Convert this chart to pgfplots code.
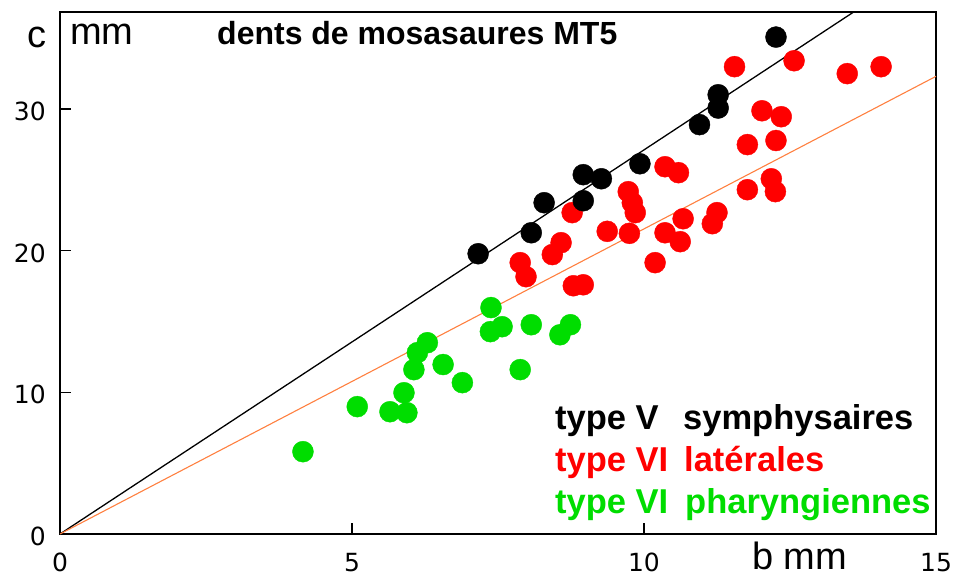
\documentclass[border=0pt]{standalone}
\usepackage{pgfplots}
\pgfplotsset{compat=1.18}
\usepackage{fontspec}
\setmainfont{Liberation Sans}
\newfontfamily\dejavu{DejaVu Sans}
\definecolor{ptred}{RGB}{255,0,0}
\definecolor{ptgreen}{RGB}{0,221,0}
\definecolor{lnorange}{RGB}{255,128,64}
\begin{document}
\begin{tikzpicture}
\begin{axis}[
  scale only axis, width=876pt, height=522pt,
  xmin=0, xmax=15, ymin=0, ymax=36.84,
  xtick={0,5,10,15}, ytick={0,10,20,30},
  tick pos=left, tick align=inside, major tick length=11pt,
  tick style={line width=1.4pt, black},
  axis line style={line width=1.6pt},
  /pgf/number format/assume math mode=true,
  ticklabel style={font=\dejavu\fontsize{25}{25}\selectfont},
  xticklabel style={anchor=base, inner sep=0pt, yshift=-37pt},
  yticklabel style={anchor=east, inner sep=0pt, xshift=-14pt, yshift=-2.5pt},
  clip=true,
]
\addplot[black, line width=1.3pt] coordinates {(0,0) (13.59,36.84)};
\addplot[lnorange, line width=1.1pt] coordinates {(0,0) (15,32.3)};
\addplot[only marks, mark=*, mark size=10.5pt, color=ptred, mark options={fill=ptred, draw=ptred}] coordinates {
(11.55,32.98) (12.57,33.40) (13.48,32.49) (14.06,32.98) (12.02,29.87) (12.35,29.45)
(11.77,27.48) (12.26,27.77) (10.36,25.92) (10.59,25.50) (11.77,24.30) (12.18,25.07)
(12.25,24.16) (10.67,22.25) (11.25,22.68) (11.17,21.90) (10.36,21.26) (10.62,20.63)
(10.19,19.15) (8.77,22.68) (9.73,24.16) (9.80,23.38) (9.85,22.68) (9.37,21.36)
(9.75,21.22) (8.58,20.56) (8.43,19.72) (7.88,19.15) (7.98,18.16) (8.79,17.52) (8.96,17.59)
};
\addplot[only marks, mark=*, mark size=10.5pt, color=ptgreen, mark options={fill=ptgreen, draw=ptgreen}] coordinates {
(4.16,5.81) (5.09,8.99) (5.65,8.63) (5.94,8.56) (5.89,9.97) (6.06,11.60) (6.12,12.80)
(6.29,13.50) (6.56,11.96) (6.89,10.68) (7.38,15.98) (7.37,14.28) (7.57,14.63)
(8.07,14.77) (8.56,14.06) (8.74,14.77) (7.88,11.60)
};
\addplot[only marks, mark=*, mark size=10.5pt, color=black, mark options={fill=black, draw=black}] coordinates {
(7.16,19.78) (8.07,21.26) (8.29,23.38) (8.96,23.52) (8.96,25.36) (9.27,25.07)
(9.93,26.13) (10.95,28.89) (11.27,30.06) (11.27,31.00) (12.26,35.07)
};
\end{axis}
\node[anchor=base west, inner sep=0pt, font=\fontsize{32}{32}\selectfont\bfseries] at (157pt,489pt) {dents de mosasaures MT5};
\node[anchor=base east, inner sep=0pt, font=\fontsize{38}{38}\selectfont] at (-13pt,486pt) {c};
\node[anchor=base west, inner sep=0pt, font=\fontsize{38}{38}\selectfont] at (10pt,489pt) {mm};
\node[anchor=base west, inner sep=0pt, font=\fontsize{38}{38}\selectfont] at (692pt,-35pt) {b mm};
\begin{scope}[every node/.style={anchor=base west, inner sep=0pt, font=\fontsize{34.5}{34.5}\selectfont\bfseries}]
\node[text=black] at (495pt,105pt) {type V};
\node[text=black] at (623pt,105pt) {symphysaires};
\node[text=ptred] at (495pt,63pt) {type VI};
\node[text=ptred] at (624pt,63pt) {latérales};
\node[text=ptgreen] at (495pt,21pt) {type VI};
\node[text=ptgreen] at (625pt,21pt) {pharyngiennes};
\end{scope}
\pgfresetboundingbox
\path (-60pt,-42pt) rectangle (896pt,534pt);
\end{tikzpicture}
\end{document}
